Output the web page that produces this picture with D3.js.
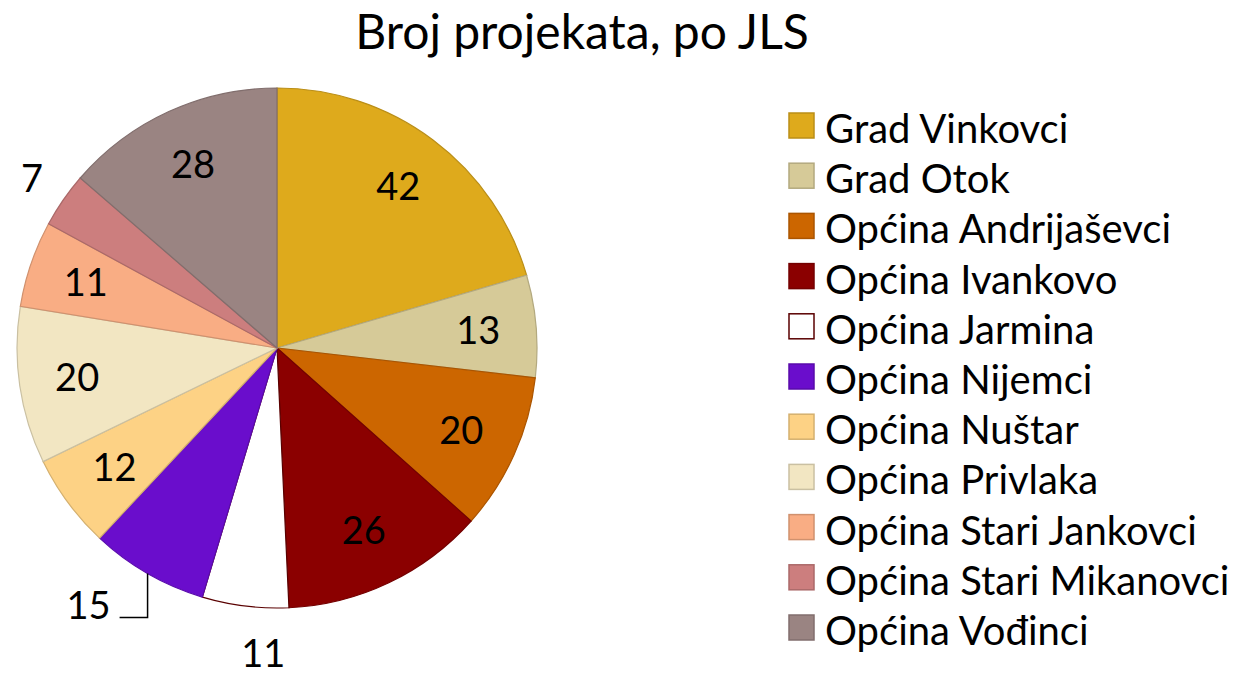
<!DOCTYPE html>
<html>
<head>
<meta charset="utf-8">
<script src="https://cdn.jsdelivr.net/npm/d3@7"></script>
<style>
  body { margin: 0; background: #fff; }
  text { font-family: Lato, "Open Sans", sans-serif; fill: #000; }
</style>
</head>
<body>
<script>
var categories = ["Grad Vinkovci", "Grad Otok", "Općina Andrijaševci", "Općina Ivankovo",
  "Općina Jarmina", "Općina Nijemci", "Općina Nuštar", "Općina Privlaka",
  "Općina Stari Jankovci", "Općina Stari Mikanovci", "Općina Vođinci"];
var values = [42, 13, 20, 26, 11, 15, 12, 20, 11, 7, 28];
var colors = ["#DEAA1C", "#D6CA98", "#CC6600", "#8B0000", "#FFFFFF", "#6A0DCC",
  "#FDD285", "#F2E6C2", "#F9AD84", "#CC7E7E", "#9A8482"];
var title = "Broj projekata, po JLS";

var width = 1243, height = 679;
var cx = 277, cy = 348, radius = 260;

var svg = d3.select("body").append("svg")
  .attr("width", width)
  .attr("height", height);

svg.append("text")
  .attr("x", 582)
  .attr("y", 49)
  .attr("text-anchor", "middle")
  .style("font-size", "48px")
  .text(title);

function strokeOf(c, i) {
  if (categories[i] === "Općina Jarmina") return "#5a0000";
  return d3.color(c).darker(0.5).formatHex();
}

var data = categories.map(function (c, i) { return { name: c, value: values[i], color: colors[i], i: i }; });

var pie = d3.pie().sort(null).value(function (d) { return d.value; });
var arcs = pie(data);
var arc = d3.arc().innerRadius(0).outerRadius(radius);
var labelArc = d3.arc().innerRadius(202).outerRadius(202);

var g = svg.append("g").attr("transform", "translate(" + cx + "," + cy + ")");

g.selectAll("path")
  .data(arcs)
  .enter()
  .append("path")
  .attr("d", arc)
  .attr("fill", function (d) { return d.data.color; })
  .attr("stroke", function (d) { return strokeOf(d.data.color, d.data.i); })
  .attr("stroke-width", 1.2);

// labels: Excel "best fit" puts a few outside (radius, fraction along slice)
var outside = { "Općina Jarmina": [306, 0.27], "Općina Stari Mikanovci": [298, 0.5] };
function pointAt(a, r) {
  return [Math.sin(a) * r, -Math.cos(a) * r];
}

arcs.forEach(function (d) {
  var mid = (d.startAngle + d.endAngle) / 2;
  var name = d.data.name;
  if (name === "Općina Nijemci") {
    // leader line
    var p = pointAt(mid, radius);
    var pts = [p, [p[0], p[1] + 44], [p[0] - 28, p[1] + 44]];
    g.append("path")
      .attr("d", d3.line()(pts))
      .attr("fill", "none")
      .attr("stroke", "#000")
      .attr("stroke-width", 1.5);
    g.append("text")
      .attr("x", p[0] - 37)
      .attr("y", p[1] + 32)
      .attr("dy", "0.35em")
      .attr("text-anchor", "end")
      .style("font-size", "38px")
      .text(d.data.value);
    return;
  }
  var pos;
  if (outside[name]) {
    var o = outside[name];
    pos = pointAt(d.startAngle + (d.endAngle - d.startAngle) * o[1], o[0]);
  } else {
    pos = labelArc.centroid(d);
  }
  g.append("text")
    .attr("x", pos[0])
    .attr("y", pos[1])
    .attr("dy", "0.35em")
    .attr("text-anchor", "middle")
    .style("font-size", "38px")
    .text(d.data.value);
});

// legend
var legend = svg.append("g").attr("transform", "translate(789,113)");
var rowH = 50.2;
var items = legend.selectAll("g.item")
  .data(data)
  .enter()
  .append("g")
  .attr("class", "item")
  .attr("transform", function (d, i) { return "translate(0," + (i * rowH) + ")"; });

items.append("rect")
  .attr("width", 25)
  .attr("height", 25)
  .attr("fill", function (d) { return d.color; })
  .attr("stroke", function (d) { return strokeOf(d.color, d.i); })
  .attr("stroke-width", 1.5);

items.append("text")
  .attr("x", 36)
  .attr("y", 30)
  .style("font-size", "40px")
  .text(function (d) { return d.name; });
</script>
</body>
</html>
